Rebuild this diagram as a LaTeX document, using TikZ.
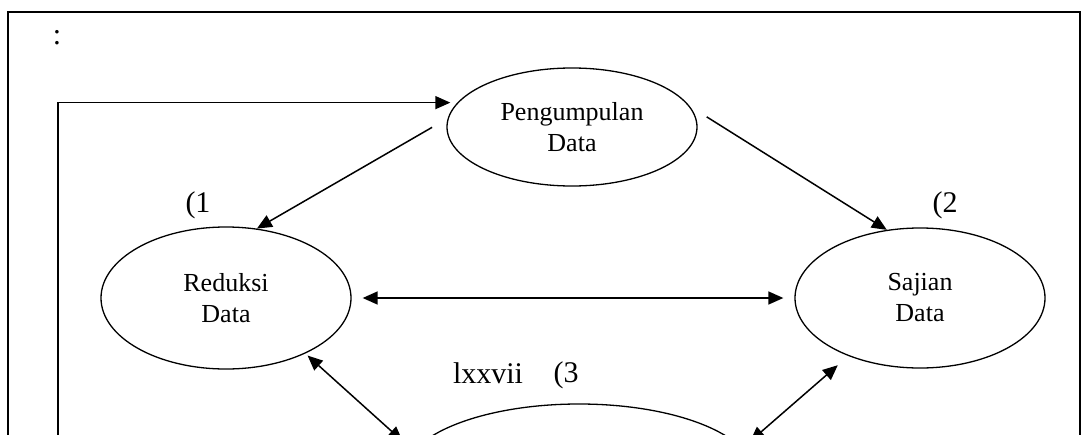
\documentclass[tikz,border=0pt]{standalone}
\usepackage{fontspec}
\setmainfont{Liberation Serif}
\usetikzlibrary{shapes.geometric,arrows.meta}

\begin{document}
\begin{tikzpicture}[x=1pt,y=-1pt,line width=1.5pt,>={Triangle[length=15pt,width=13pt]}]
 \useasboundingbox (0,0) rectangle (1082,434);
 \clip (0,0) rectangle (1082,434);
 \draw [line width=2.2pt] (8,450) -- (8,12) -- (1080,12) -- (1080,450);
 \tikzstyle{every node} = [inner sep=0pt,font=\fontsize{30}{36}\selectfont]
 \node[anchor=base] (colon) at (57,44) {:};
 \node[anchor=base] (no1) at (198,212) {(1};
 \node[anchor=base] (no2) at (945,212) {(2};
 \node[anchor=base] (hal) at (488,383) {lxxvii};
 \node[anchor=base] (no3) at (566,382) {(3};
 \coordinate (fb) at (58,450);
 \tikzstyle{every node} = [ellipse,draw,line width=1.3pt,align=center,inner sep=0pt,
   font=\fontsize{26}{31}\selectfont]
 \node[minimum width=250pt,minimum height=118pt] (peng) at (572,127) {Pengumpulan\\Data};
 \node[minimum width=250pt,minimum height=142pt] (red) at (226,298) {Reduksi\\Data};
 \node[minimum width=250pt,minimum height=140pt] (saj) at (920,298) {Sajian\\Data};
 \node[minimum width=350pt,minimum height=140pt] (simp) at (579,474) {};
 \draw [->, shorten >=7pt] (fb) |- (peng.168);
 \draw [->, shorten <=18pt] (peng.176) to (red.66);
 \draw [->, shorten <=20pt] (peng.10) to (saj.116);
 \draw [<->, shorten <=11pt, shorten >=11pt] (red.east) -- (saj.west);
 \draw [<->, shorten <=3pt, shorten >=14pt] (red.-35) -- (simp.172.5);
 \draw [<->, shorten <=14pt, shorten >=10pt] (saj.-141) -- (simp.9);
\end{tikzpicture}
\end{document}
